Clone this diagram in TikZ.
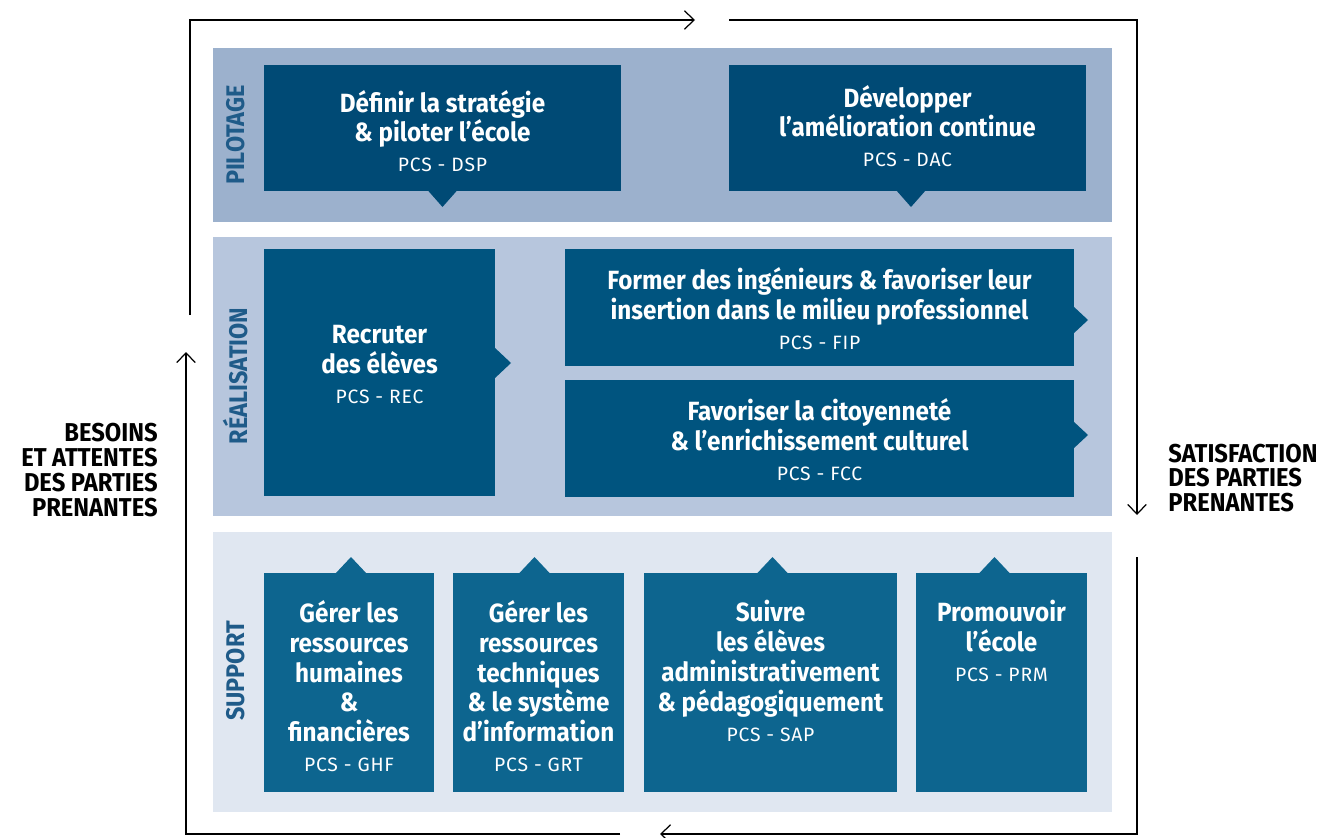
\documentclass[tikz,border=0pt]{standalone}
\usepackage{fontspec}
\setmainfont{Fira Sans}
\newfontfamily\condfont{Fira Sans}[FakeStretch=0.92]
\newfontfamily\codefont{Fira Sans}[LetterSpace=4]
\usepackage{tikz}
\usetikzlibrary{positioning}
\usetikzlibrary{arrows.meta}
\usetikzlibrary{fit}
\usetikzlibrary{calc}
\usepackage{xcolor}

\definecolor{pilband}{HTML}{9CB1CD}
\definecolor{realband}{HTML}{B7C6DD}
\definecolor{supband}{HTML}{E0E7F1}
\definecolor{pilbox}{HTML}{004A75}
\definecolor{realbox}{HTML}{00547F}
\definecolor{supbox}{HTML}{0D658F}
\definecolor{sidetxt}{HTML}{1F5B89}

\newcommand{\pcsref}[1]{{\codefont\mdseries\fontsize{11pt}{17pt}\selectfont #1}}

\begin{document}
\begin{tikzpicture}[
		x=0.02cm, y=-0.02cm,
		% Style definitions
		band/.style={inner sep=0pt, outer sep=0pt},
		procbox/.style={inner sep=0pt, outer sep=0pt},
		proctext/.style={text=white, align=center, inner sep=0pt, font=\condfont\bfseries\fontsize{15pt}{17pt}\selectfont},
		sidelabel/.style={rotate=90, text=sidetxt, font=\condfont\bfseries\fontsize{14.5pt}{16pt}\selectfont},
		outlabel/.style={inner sep=0pt, font=\condfont\bfseries\fontsize{14.7pt}{14.2pt}\selectfont},
		flow/.style={line width=0.7pt, -{Straight Barb[length=5.5pt, width=10.5pt, line width=0.7pt]}},
		]
		\useasboundingbox (0,0) rectangle (1319,838);

		% === Bands ===
		\node[band, fill=pilband, fit={(213,48) (1112,222)}] (pil-band) {};
		\node[band, fill=realband, fit={(213,237) (1112,516)}] (real-band) {};
		\node[band, fill=supband, fit={(213,532) (1112,812)}] (sup-band) {};

		\node[sidelabel] (lbl-pil) at (236,135) {PILOTAGE};
		\node[sidelabel] (lbl-real) at (236,376) {RÉALISATION};
		\node[sidelabel] (lbl-sup) at (236,671) {SUPPORT};

		% === Pilotage ===
		\node[procbox, fill=pilbox, fit={(264,65) (621,191)}] (dsp) {};
		\node[procbox, fill=pilbox, fit={(729,65) (1086,191)}] (dac) {};
		\fill[pilbox] ($(dsp.south)+(-15,-1)$) -- ($(dsp.south)+(0,16)$) -- ($(dsp.south)+(15,-1)$) -- cycle;
		\fill[pilbox] ($(dac.south)+(-11.5,-1)$) -- ($(dac.south)+(3.5,16)$) -- ($(dac.south)+(18.5,-1)$) -- cycle;
		\node[proctext] (dsp-t) at ($(dsp.center)+(0,3)$) {Définir la stratégie\\\& piloter l’école\\\pcsref{PCS - DSP}};
		\node[proctext] (dac-t) at ($(dac.center)+(0,-2)$) {Développer\\l’amélioration continue\\\pcsref{PCS - DAC}};

		% === Realisation ===
		\node[procbox, fill=realbox, fit={(264,249) (495,496)}] (rec) {};
		\node[procbox, fill=realbox, fit={(565,249) (1074,366)}] (fip) {};
		\node[procbox, fill=realbox, fit={(565,380) (1074,497)}] (fcc) {};
		\fill[realbox] ($(rec.east)+(-1,-25.5)$) -- ($(rec.east)+(16,-9.5)$) -- ($(rec.east)+(-1,6.5)$) -- cycle;
		\fill[realbox] ($(fip.east)+(-1,-1.5)$) -- ($(fip.east)+(14,12.5)$) -- ($(fip.east)+(-1,26.5)$) -- cycle;
		\fill[realbox] ($(fcc.east)+(-1,-17.5)$) -- ($(fcc.east)+(14,-3.5)$) -- ($(fcc.east)+(-1,10.5)$) -- cycle;
		\node[proctext] (rec-t) at ($(rec.center)+(0,-8)$) {Recruter\\des élèves\\\pcsref{PCS - REC}};
		\node[proctext] (fip-t) at ($(fip.center)+(0,1)$) {Former des ingénieurs \& favoriser leur\\insertion dans le milieu professionnel\\\pcsref{PCS - FIP}};
		\node[proctext] (fcc-t) at ($(fcc.center)+(0,1)$) {Favoriser la citoyenneté\\\& l’enrichissement culturel\\\pcsref{PCS - FCC}};

		% === Support ===
		\node[procbox, fill=supbox, fit={(264,573) (434,792)}] (ghf) {};
		\node[procbox, fill=supbox, fit={(453,573) (624,792)}] (grt) {};
		\node[procbox, fill=supbox, fit={(644,573) (897,792)}] (sap) {};
		\node[procbox, fill=supbox, fit={(916,573) (1087,792)}] (prm) {};
		\foreach \b/\dx in {ghf/2, grt/-4, sap/2, prm/-7}
			\fill[supbox] ($(\b.north)+(\dx-16,1)$) -- ($(\b.north)+(\dx,-16)$) -- ($(\b.north)+(\dx+16,1)$) -- cycle;
		\node[proctext, anchor=north] (ghf-t) at ($(ghf.north)+(0,27)$) {Gérer les\\ressources\\humaines\\\&\\financières\\\pcsref{PCS - GHF}};
		\node[proctext, anchor=north] (grt-t) at ($(grt.north)+(0,27)$) {Gérer les\\ressources\\techniques\\\& le système\\d’information\\\pcsref{PCS - GRT}};
		\node[proctext, anchor=north] (sap-t) at ($(sap.north)+(0,27)$) {Suivre\\les élèves\\administrativement\\\& pédagogiquement\\\pcsref{PCS - SAP}};
		\node[proctext, anchor=north] (prm-t) at ($(prm.north)+(0,27)$) {Promouvoir\\l’école\\\pcsref{PCS - PRM}};

		% === Outside labels ===
		\node[outlabel, anchor=east, align=right] (besoins) at (158,470) {BESOINS\\ET ATTENTES\\DES PARTIES\\PRENANTES};
		\node[outlabel, anchor=west, align=left] (satisf) at (1168,478) {SATISFACTION\\DES PARTIES\\PRENANTES};

		% === Loop around the processes ===
		\coordinate (b-start) at (620,834);
		\coordinate (b-corner) at (186,834);
		\coordinate (b-tip) at (186,352);
		\coordinate (t-start) at (190,315);
		\coordinate (t-corner) at (190,20);
		\coordinate (t-tip) at (695,20);
		\coordinate (r-start) at (729,20);
		\coordinate (r-corner) at (1137,20);
		\coordinate (r-tip) at (1137,515);
		\coordinate (s-start) at (1137,557);
		\coordinate (s-corner) at (1137,834);
		\coordinate (s-tip) at (660,834);
		\draw[flow] (b-start) -- (b-corner) -- (b-tip);
		\draw[flow] (t-start) -- (t-corner) -- (t-tip);
		\draw[flow] (r-start) -- (r-corner) -- (r-tip);
		\draw[flow] (s-start) -- (s-corner) -- (s-tip);

	\end{tikzpicture}
\end{document}
